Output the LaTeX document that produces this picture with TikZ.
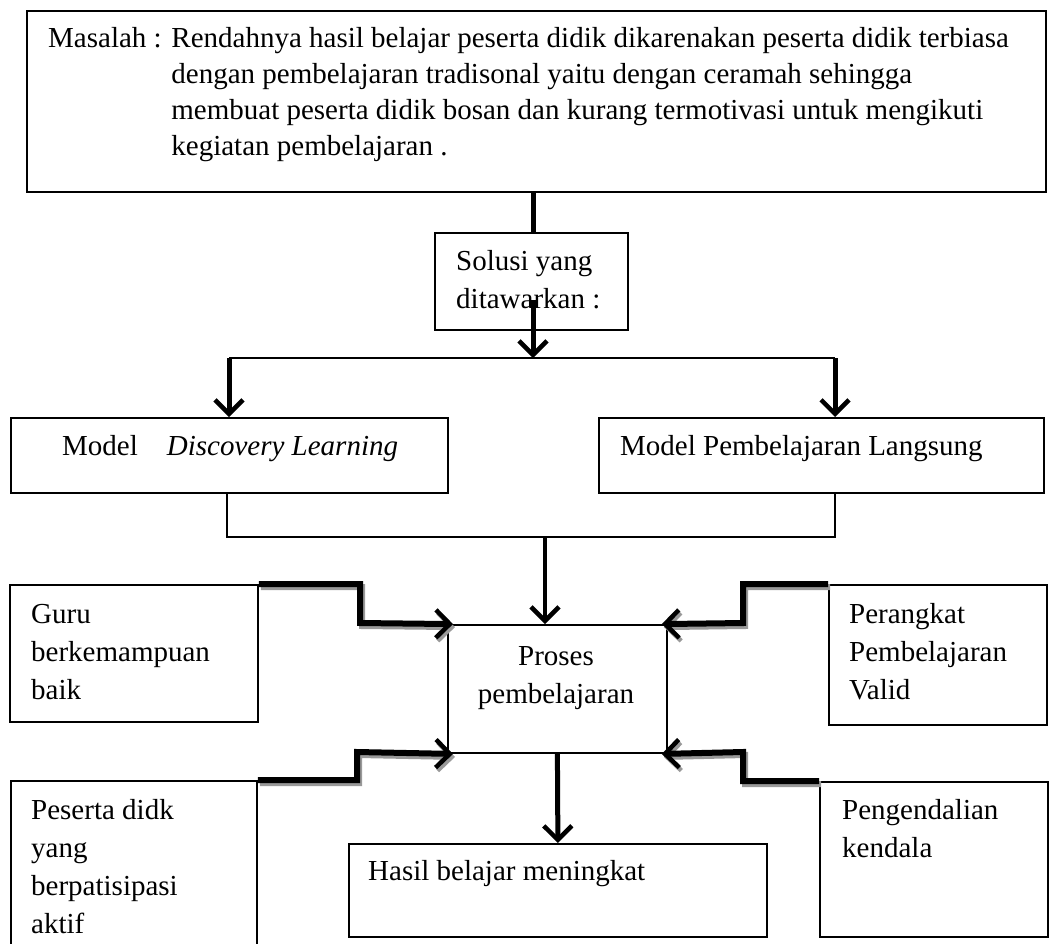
\documentclass[tikz,border=0pt]{standalone}
\usepackage{fontspec}
\setmainfont{Liberation Serif}
\usetikzlibrary{arrows.meta,calc}
\begin{document}
\begin{tikzpicture}[x=1pt,y=-1pt,
  box/.style={draw, line width=1.8pt, rectangle, inner sep=0pt, anchor=north west},
  txt/.style={inner sep=0pt, align=left, anchor=north west, font=\fontsize{29}{38}\selectfont},
  thinline/.style={line width=2pt},
  vline/.style={line width=5pt},
  tip/.style={-{Straight Barb[length=14pt,width=28pt,line width=4.5pt]}},
  varrow/.style={line width=5pt, tip},
  stepped/.style={line width=6pt, tip, shorten >=-6pt},
  shadowline/.style={stepped, draw=black!40},
]
\useasboundingbox (0,0) rectangle (1052,943);
\fill[white] (0,0) rectangle (1052,943);
\clip (0,0) rectangle (1052,943);

% boxes
\node[box, minimum width=1019pt, minimum height=181pt] (masalah) at (26,10) {};
\node[box, minimum width=193pt, minimum height=97pt] (solusi) at (434,232) {};
\node[box, minimum width=437pt, minimum height=75pt] (dl) at (10,417) {};
\node[box, minimum width=445pt, minimum height=75pt] (pl) at (598,417) {};
\node[box, minimum width=219pt, minimum height=128pt] (proses) at (447,624) {};
\node[box, minimum width=248pt, minimum height=137pt] (guru) at (9,584) {};
\node[box, minimum width=218pt, minimum height=140pt] (perangkat) at (828,584) {};
\node[box, minimum width=246pt, minimum height=190pt] (peserta) at (10,780) {};
\node[box, minimum width=418pt, minimum height=93pt] (hasil) at (348,843) {};
\node[box, minimum width=228pt, minimum height=155pt] (pengendalian) at (819,781) {};

% texts
\node[txt, font=\fontsize{29}{36}\selectfont] (masalahtxt) at (48,21.8)
  {\strut Masalah : Rendahnya hasil belajar peserta didik dikarenakan peserta didik terbiasa\\
   \hphantom{Masalah : }dengan pembelajaran tradisonal yaitu dengan ceramah sehingga\\
   \hphantom{Masalah : }membuat peserta didik bosan dan kurang termotivasi untuk mengikuti\\
   \hphantom{Masalah : }kegiatan pembelajaran .};
\node[txt] (solusitxt) at (456,243.4) {\strut Solusi yang\\ditawarkan :};
\node[txt, anchor=base west] (dltxt) at (62,455) {Model\hspace{1em}\textit{Discovery Learning}};
\node[txt, anchor=base west] (pltxt) at (620,455) {Model Pembelajaran Langsung};
\node[txt, align=center, anchor=north] (prosestxt) at (556,638.4) {\strut Proses\\pembelajaran};
\node[txt] (gurutxt) at (31,596.4) {\strut Guru\\berkemampuan\\baik};
\node[txt] (perangkattxt) at (849,596.4) {\strut Perangkat\\Pembelajaran\\Valid};
\node[txt] (pesertatxt) at (31,792.4) {\strut Peserta didk\\yang\\berpatisipasi\\aktif};
\node[txt, anchor=base west] (hasiltxt) at (368,880) {Hasil belajar meningkat};
\node[txt] (pengendaliantxt) at (842,792.4) {\strut Pengendalian\\kendala};

% connectors
\coordinate (cx) at (533,0);
\coordinate (sin) at (533,300);
\coordinate (sl) at (229,358);
\coordinate (sr) at (835,358);
\coordinate (ml) at (227,537);
\coordinate (mr) at (835,537);
\coordinate (mm) at (545,537);

\draw[vline] (masalah.south -| cx) -- (solusi.north -| cx);
\draw[varrow] (sin) -- (sin |- sl);
\draw[thinline] (sl) -- (sr);
\draw[varrow] (sl) -- (sl |- dl.north);
\draw[varrow] (sr) -- (sr |- pl.north);

\draw[thinline] (ml |- dl.south) -- (ml) -- (mr) -- (mr |- pl.south);
\draw[varrow, line width=4pt] (mm) -- (mm |- proses.north);
\draw[varrow] (proses.south) -- (hasil.north);

% shadows of the stepped arrows
\begin{scope}[transform canvas={shift={(2pt,-3pt)}}]
\draw[shadowline] (guru.north east) -| (360,623) -- (proses.north west);
\draw[shadowline] (peserta.north east) -| (357,752) -- (proses.south west);
\draw[shadowline] (perangkat.north west) -| (743,623) -- (proses.north east);
\draw[shadowline] (pengendalian.north west) -| (743,752) -- (proses.south east);
\end{scope}
\draw[stepped] (guru.north east) -| (360,623) -- (proses.north west);
\draw[stepped] (peserta.north east) -| (357,752) -- (proses.south west);
\draw[stepped] (perangkat.north west) -| (743,623) -- (proses.north east);
\draw[stepped] (pengendalian.north west) -| (743,752) -- (proses.south east);
\end{tikzpicture}
\end{document}
